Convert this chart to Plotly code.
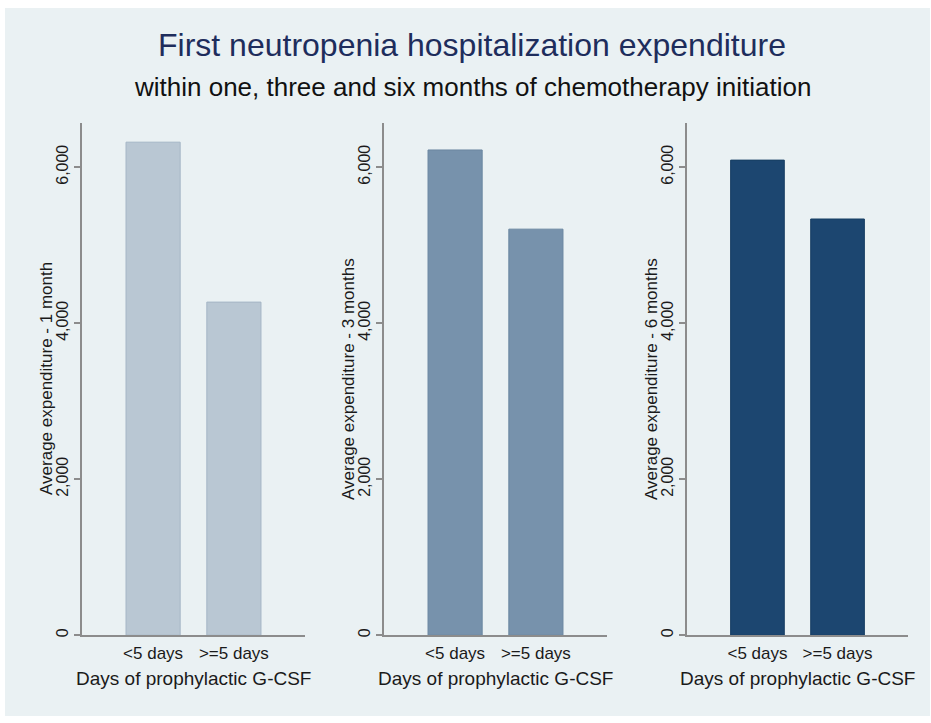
import plotly.graph_objects as go
from plotly.subplots import make_subplots

# Data
categories = ["<5 days", ">=5 days"]
exp_1_month = [6320, 4270]
exp_3_months = [6220, 5205]
exp_6_months = [6090, 5335]

panel_titles = [
    "Average expenditure - 1 month",
    "Average expenditure - 3 months",
    "Average expenditure - 6 months",
]
x_title = "Days of prophylactic G-CSF"
title = "First neutropenia hospitalization expenditure"
subtitle = "within one, three and six months of chemotherapy initiation"

W, H = 931, 723
BG = "#EAF1F3"
FONT = "Liberation Sans"

fills = ["#B9C7D3", "#7792AC", "#1C4670"]
edges = ["#A4B5C5", "#6A86A0", "#173E63"]
series = [exp_1_month, exp_3_months, exp_6_months]

# panel positions in pixels (left, right)
panels = [(82, 305), (384, 607), (687, 908)]
y_top, y_bot = 123, 637

fig = make_subplots(rows=1, cols=3)

for i, vals in enumerate(series):
    fig.add_trace(
        go.Bar(
            x=categories, y=vals, width=0.67,
            marker=dict(color=fills[i], line=dict(color=edges[i], width=1)),
            showlegend=False, hoverinfo="x+y",
        ),
        row=1, col=i + 1,
    )

for i, (l, r) in enumerate(panels):
    n = "" if i == 0 else str(i + 1)
    fig.layout["xaxis" + n].update(
        domain=[l / W, r / W], range=[-0.88, 1.88],
        showline=True, linecolor="#8C8C8C", linewidth=1.5,
        ticks="outside", ticklen=2, tickcolor="rgba(0,0,0,0)",
        tickfont=dict(family=FONT, size=17, color="#1a1a1a"),
        showgrid=False, zeroline=False,
    )
    fig.layout["yaxis" + n].update(
        domain=[1 - y_bot / H, 1 - y_top / H], range=[0, 6570],
        tickvals=[0, 2000, 4000, 6000], tickformat=",d", tickangle=-90,
        showline=True, linecolor="#8C8C8C", linewidth=1.5,
        ticks="outside", ticklen=6, tickcolor="#8C8C8C", tickwidth=1.5,
        tickfont=dict(family=FONT, size=16, color="#1a1a1a"),
        showgrid=True, gridcolor="#EAF1F3", gridwidth=1.5, zeroline=False,
    )
    cx = (l + r) / 2 / W
    fig.add_annotation(
        x=cx, y=1 - 680 / H, xref="paper", yref="paper",
        text=x_title, showarrow=False, xanchor="center", yanchor="middle",
        font=dict(family=FONT, size=19, color="#1a1a1a"),
    )
    fig.add_annotation(
        x=(l - 35) / W, y=1 - (y_top + y_bot) / 2 / H, xref="paper", yref="paper",
        text=panel_titles[i], showarrow=False, textangle=-90,
        xanchor="center", yanchor="middle",
        font=dict(family=FONT, size=17, color="#1a1a1a"),
    )

fig.add_annotation(
    x=472 / W, y=1 - 45 / H, xref="paper", yref="paper",
    text=title, showarrow=False, xanchor="center", yanchor="middle",
    font=dict(family=FONT, size=32, color="#1E2D5C"),
)
fig.add_annotation(
    x=472 / W, y=1 - 87 / H, xref="paper", yref="paper",
    text=subtitle, showarrow=False, xanchor="center", yanchor="middle",
    font=dict(family=FONT, size=26, color="#111111"),
)

fig.add_shape(
    type="rect", xref="paper", yref="paper", layer="below",
    x0=5 / W, x1=930 / W, y0=1 - 718 / H, y1=1 - 8 / H,
    fillcolor=BG, line=dict(width=0),
)

fig.update_layout(
    width=W, height=H,
    margin=dict(l=0, r=0, t=0, b=0),
    paper_bgcolor="white", plot_bgcolor="white",
    font=dict(family=FONT),
)

# drop the default page margin so the figure sits at the window's corner
fig.write_html(
    "out.html",
    config={"displayModeBar": False},
    post_script="document.body.style.margin='0';",
)
